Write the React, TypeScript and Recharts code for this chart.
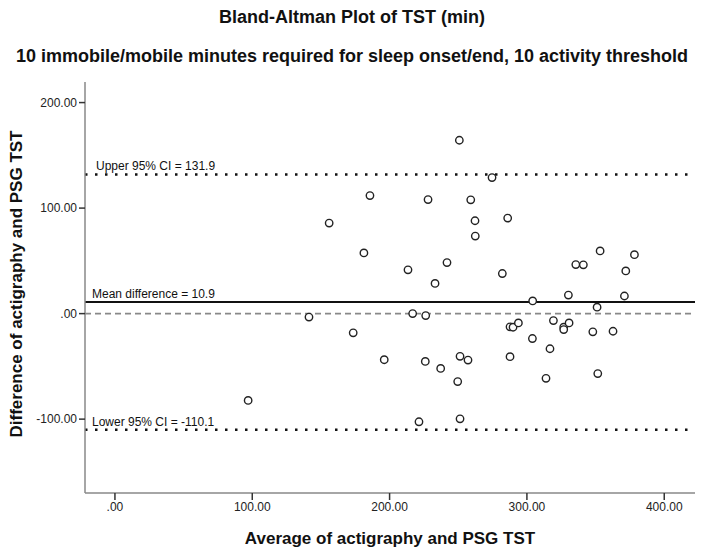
import React from 'react';
import { ScatterChart, Scatter, XAxis, YAxis, ReferenceLine } from 'recharts';

// average of actigraphy and PSG TST (x) and their difference (y), one entry per subject
const avgValues = [
  185.7, 156.0, 181.3, 141.3, 250.8, 274.6, 228.0, 259.1, 262.2, 286.0,
  262.4, 353.3, 378.3, 213.4, 241.8, 335.6, 341.1, 372.0, 233.1, 282.1,
  330.2, 371.0, 304.2, 351.1, 216.8, 226.3, 173.5, 196.1, 97.0, 287.7,
  289.9, 293.8, 319.3, 326.8, 326.8, 330.7, 348.0, 362.7, 304.0, 316.8,
  226.0, 251.3, 257.1, 237.2, 287.7, 249.6, 313.9, 351.6, 221.4, 251.3,
];
const diffValues = [
  111.9, 85.8, 57.5, -3.3, 164.3, 128.9, 108.1, 107.8, 88.0, 90.5,
  73.5, 59.4, 55.9, 41.5, 48.4, 46.5, 46.2, 40.5, 28.6, 38.0,
  17.6, 16.7, 12.0, 6.1, 0.0, -1.9, -18.2, -43.7, -82.3, -12.5,
  -12.9, -8.8, -6.6, -12.9, -15.1, -8.8, -17.3, -16.7, -23.6, -33.3,
  -45.3, -40.5, -44.0, -51.9, -40.8, -64.4, -61.3, -56.8, -102.5, -99.7,
];

const xTicks = [0, 100, 200, 300, 400];
const yTicks = [-100, 0, 100, 200];

const upperCI = 131.9;
const meanDiff = 10.9;
const lowerCI = -110.1;

const points = avgValues.map((avg, i) => ({ avg, diff: diffValues[i] }));

const FONT = '"Liberation Sans", Arial, sans-serif';

const fmt = (v: number) => (v === 0 ? '.00' : v.toFixed(2));

function LineLabel(props: any) {
  const { viewBox, text, dx } = props;
  if (!viewBox) return null;
  return (
    <text x={viewBox.x + dx} y={viewBox.y - 4} fontSize={12} fill="#111" fontFamily={FONT}>
      {text}
    </text>
  );
}

const ring = (p: any) => (
  <circle cx={p.cx} cy={p.cy} r={3.7} fill="#fff" stroke="#222" strokeWidth={1.4} />
);

export default function App() {
  return (
    <div style={{ position: 'absolute', left: 0, top: 0, width: 704, height: 554, background: '#fff', fontFamily: FONT }}>
      <div style={{ position: 'absolute', left: 0, width: 704, top: 7, textAlign: 'center', fontSize: 18, fontWeight: 'bold', color: '#111' }}>
        Bland-Altman Plot of TST (min)
      </div>
      <div style={{ position: 'absolute', left: 0, width: 704, top: 46, textAlign: 'center', fontSize: 18, fontWeight: 'bold', color: '#111' }}>
        10 immobile/mobile minutes required for sleep onset/end, 10 activity threshold
      </div>
      <div style={{ position: 'absolute', left: 0, top: 0 }}>
        <ScatterChart width={704} height={554} margin={{ top: 82, right: 9, bottom: 0, left: 0 }}>
          <XAxis
            type="number"
            dataKey="avg"
            domain={[-21.8, 422.4]}
            allowDataOverflow
            ticks={xTicks}
            tickFormatter={fmt}
            height={61}
            tickSize={7}
            axisLine={{ stroke: '#888', strokeWidth: 1.5 }}
            tickLine={{ stroke: '#333', strokeWidth: 1.5 }}
            tick={{ fontSize: 12, fill: '#222', fontFamily: FONT }}
            label={{ value: 'Average of actigraphy and PSG TST', position: 'insideBottom', offset: 10, fontSize: 17, fontWeight: 'bold', fill: '#111', fontFamily: FONT }}
          />
          <YAxis
            type="number"
            dataKey="diff"
            domain={[-170, 219.5]}
            allowDataOverflow
            ticks={yTicks}
            tickFormatter={fmt}
            width={85}
            tickSize={6}
            axisLine={{ stroke: '#888', strokeWidth: 1.5 }}
            tickLine={{ stroke: '#333', strokeWidth: 1.5 }}
            tick={{ fontSize: 12, fill: '#222', fontFamily: FONT }}
            label={{ value: 'Difference of actigraphy and PSG TST', angle: -90, position: 'insideLeft', offset: 16, dy: 150, fontSize: 17, fontWeight: 'bold', fill: '#111', fontFamily: FONT }}
          />
          <ReferenceLine y={0} stroke="#888" strokeWidth={1.6} strokeDasharray="6 4" />
          <ReferenceLine y={upperCI} stroke="#111" strokeWidth={2.5} strokeDasharray="2.5 7.5"
            label={<LineLabel text={`Upper 95% CI = ${upperCI}`} dx={11} />} />
          <ReferenceLine y={meanDiff} stroke="#111" strokeWidth={2}
            label={<LineLabel text={`Mean difference = ${meanDiff}`} dx={7} />} />
          <ReferenceLine y={lowerCI} stroke="#111" strokeWidth={2.5} strokeDasharray="2.5 7.5"
            label={<LineLabel text={`Lower 95% CI = ${lowerCI}`} dx={7} />} />
          <Scatter data={points} isAnimationActive={false} shape={ring} />
        </ScatterChart>
      </div>
    </div>
  );
}
